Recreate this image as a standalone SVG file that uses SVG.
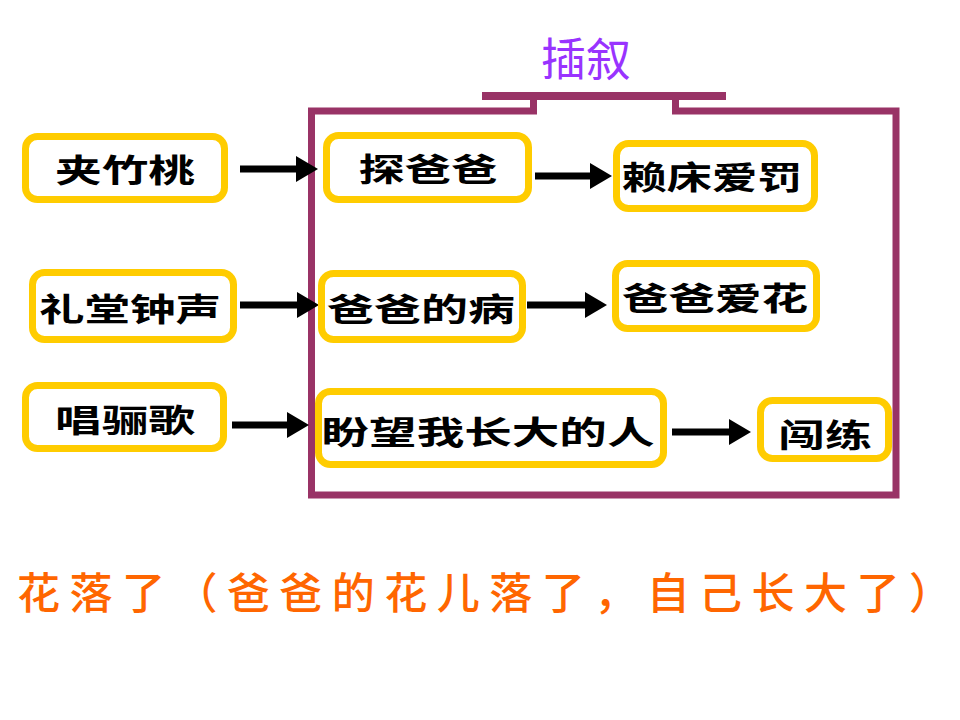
<svg xmlns="http://www.w3.org/2000/svg" width="960" height="720" viewBox="0 0 960 720">
  <defs>
    <marker id="ah" markerUnits="userSpaceOnUse" markerWidth="23" markerHeight="26" refX="1" refY="13" orient="auto">
      <path d="M0,0 L22,13 L0,26 z" fill="#000"/>
    </marker>
  </defs>
  <style>
    .box { fill: #fff; stroke: #FFCC00; stroke-width: 7; }
    .lbl { font-family: "Noto Sans CJK SC", "Noto Sans", sans-serif; font-size: 32px; font-weight: bold; fill: #000; }
    .arr { stroke: #000; stroke-width: 7; fill: none; marker-end: url(#ah); }
    .frame { fill: none; stroke: #993366; stroke-width: 7; stroke-linejoin: miter; }
  </style>
  <rect width="960" height="720" fill="#fff"/>

  <g id="frame">
    <path class="frame" d="M533.5,96 V111 H311.5 V495 H896 V111 H675.5 V96"/>
    <line x1="482" y1="96" x2="726" y2="96" stroke="#993366" stroke-width="8"/>
    <text x="586" y="76" text-anchor="middle" font-family="Noto Sans CJK SC, sans-serif" font-size="45" font-weight="normal" fill="#9933FF">插叙</text>
  </g>

  <g id="connectors">
    <line class="arr" x1="240" y1="169" x2="297" y2="169"/>
    <line class="arr" x1="535" y1="176" x2="591" y2="176"/>
    <line class="arr" x1="240" y1="305" x2="298" y2="305"/>
    <line class="arr" x1="527" y1="305" x2="586" y2="305"/>
    <line class="arr" x1="232" y1="425" x2="288" y2="425"/>
    <line class="arr" x1="672" y1="432" x2="730" y2="432"/>
  </g>

  <g id="n1"><rect class="box" x="25.5" y="136.5" width="199" height="63" rx="12"/>
    <text class="lbl" x="55" y="182" textLength="140" lengthAdjust="spacingAndGlyphs">夹竹桃</text></g>
  <g id="n2"><rect class="box" x="326.5" y="135.5" width="202" height="64" rx="12"/>
    <text class="lbl" x="358.5" y="181" textLength="139" lengthAdjust="spacingAndGlyphs">探爸爸</text></g>
  <g id="n3"><rect class="box" x="616.5" y="143.5" width="198" height="65" rx="12"/>
    <text class="lbl" x="621.5" y="189" textLength="181" lengthAdjust="spacingAndGlyphs">赖床爱罚</text></g>
  <g id="n4"><rect class="box" x="32.5" y="272.5" width="201" height="67" rx="12"/>
    <text class="lbl" x="39" y="321" textLength="182" lengthAdjust="spacingAndGlyphs">礼堂钟声</text></g>
  <g id="n5"><rect class="box" x="321.5" y="273.5" width="201" height="66" rx="12"/>
    <text class="lbl" x="327" y="321" textLength="188" lengthAdjust="spacingAndGlyphs">爸爸的病</text></g>
  <g id="n6"><rect class="box" x="615.5" y="263.5" width="201" height="65" rx="12"/>
    <text class="lbl" x="622" y="310" textLength="186" lengthAdjust="spacingAndGlyphs">爸爸爱花</text></g>
  <g id="n7"><rect class="box" x="25.5" y="385.5" width="198" height="63" rx="12"/>
    <text class="lbl" x="55" y="432" textLength="140" lengthAdjust="spacingAndGlyphs">唱骊歌</text></g>
  <g id="n8"><rect class="box" x="318.5" y="391.5" width="345" height="73" rx="12"/>
    <text class="lbl" x="321.5" y="444" textLength="333" lengthAdjust="spacingAndGlyphs">盼望我长大的人</text></g>
  <g id="n9"><rect class="box" x="760.5" y="400.5" width="128" height="58" rx="12"/>
    <text class="lbl" x="778" y="447" textLength="94" lengthAdjust="spacingAndGlyphs">闯练</text></g>

  <g id="caption">
    <text x="17" y="609" font-family="Noto Sans CJK SC, sans-serif" font-size="43" font-weight="500" fill="#FF6600" textLength="935" lengthAdjust="spacing">花落了（爸爸的花儿落了，自己长大了）</text>
  </g>
</svg>
